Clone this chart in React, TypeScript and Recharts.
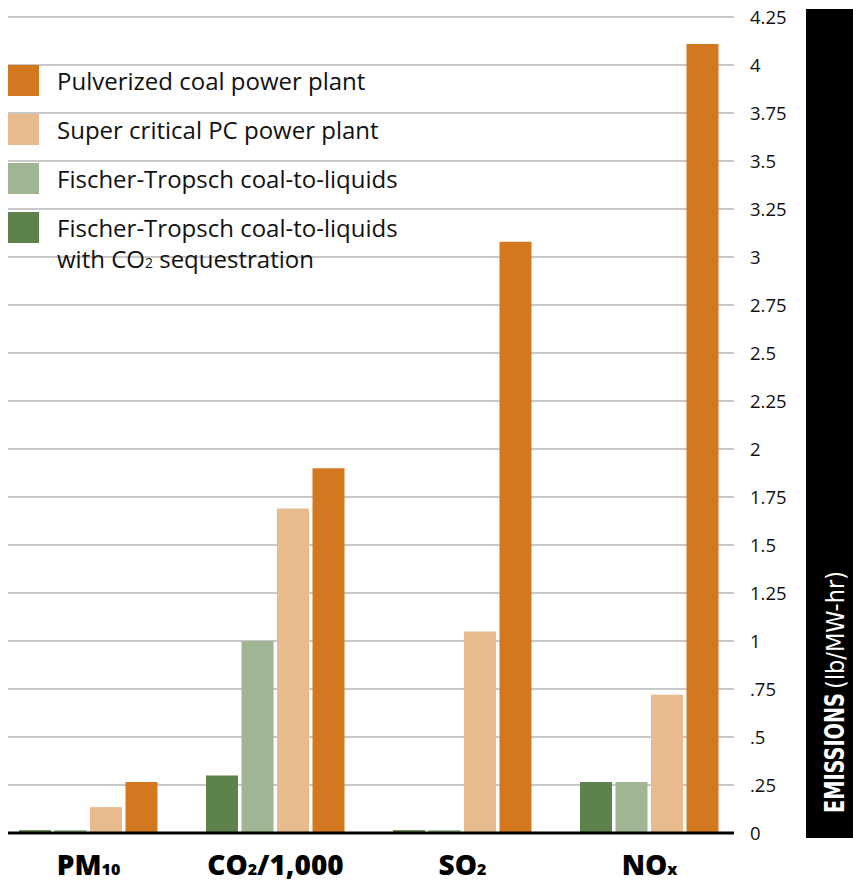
import { BarChart, Bar, XAxis, YAxis, CartesianGrid } from 'recharts';

// category labels are split so the chemical subscripts can be drawn smaller
const categoryMain = ['PM', 'CO', 'SO', 'NO'];
const categorySub = ['10', '2', '2', 'x'];
const categoryTail = ['', '/1,000', '', ''];

// emissions, lb/MW-hr
const ftCcs = [0.015, 0.3, 0.015, 0.265];
const ftCtl = [0.015, 1.0, 0.015, 0.265];
const superCritical = [0.135, 1.69, 1.05, 0.72];
const pulverized = [0.265, 1.9, 3.08, 4.11];

const yTicks = [0, 0.25, 0.5, 0.75, 1, 1.25, 1.5, 1.75, 2, 2.25, 2.5, 2.75, 3, 3.25, 3.5, 3.75, 4, 4.25];

const series = [
  { key: 'ftCcs', color: '#5E824B' },
  { key: 'ftCtl', color: '#A0B593' },
  { key: 'superCritical', color: '#E8BB8E' },
  { key: 'pulverized', color: '#D3781F' },
];

// legend runs top-down in reverse bar order
const legendItems = [
  { color: '#D3781F', lines: ['Pulverized coal power plant'] },
  { color: '#E8BB8E', lines: ['Super critical PC power plant'] },
  { color: '#A0B593', lines: ['Fischer-Tropsch coal-to-liquids'] },
  { color: '#5E824B', lines: ['Fischer-Tropsch coal-to-liquids', 'with CO|2| sequestration'] },
];

const data = categoryMain.map((m, i) => ({
  name: m + categorySub[i] + categoryTail[i],
  ftCcs: ftCcs[i],
  ftCtl: ftCtl[i],
  superCritical: superCritical[i],
  pulverized: pulverized[i],
}));

const FONT = "'Open Sans', 'Noto Sans', sans-serif";

const formatTick = (v: number) => (v > 0 && v < 1 ? String(v).replace(/^0/, '') : String(v));

function CategoryTick(props: any) {
  const { x, payload } = props;
  const i = payload.index;
  return (
    <text x={x} y={875} textAnchor="middle" fontFamily={FONT} fontWeight={800} fontSize={28} fill="#000">
      {categoryMain[i]}
      <tspan fontSize={16}>{categorySub[i]}</tspan>
      {categoryTail[i]}
    </text>
  );
}

function LegendLine({ text }: { text: string }) {
  // "|2|" marks a subscript
  const parts = text.split('|');
  return (
    <div>
      {parts.map((p, k) =>
        k % 2 === 1 ? (
          <span key={k} style={{ fontSize: 14 }}>{p}</span>
        ) : (
          <span key={k}>{p}</span>
        )
      )}
    </div>
  );
}

export default function App() {
  return (
    <div style={{ position: 'absolute', left: 0, top: 0, width: 853, height: 882, background: '#fff' }}>
      <BarChart
        width={853}
        height={882}
        data={data}
        margin={{ top: 17, right: 0, bottom: 0, left: 8 }}
        barSize={32}
        barGap={3.5}
      >
        <CartesianGrid vertical={false} stroke="#c8c8c8" strokeWidth={2} />
        <XAxis
          dataKey="name"
          height={49}
          padding={{ left: -13, right: -9 }}
          axisLine={{ stroke: '#000', strokeWidth: 3 }}
          tickLine={false}
          tick={<CategoryTick />}
          interval={0}
        />
        <YAxis
          orientation="right"
          width={119}
          domain={[0, 4.25]}
          ticks={yTicks}
          interval={0}
          tickFormatter={formatTick}
          axisLine={false}
          tickLine={false}
          tickSize={0}
          tickMargin={14}
          tick={{ fontSize: 18.5, fill: '#111', fontFamily: FONT, dx: 2 }}
        />
        {series.map((s) => (
          <Bar key={s.key} dataKey={s.key} fill={s.color} isAnimationActive={false} />
        ))}
      </BarChart>

      <div style={{ position: 'absolute', left: 8, top: 65, fontFamily: FONT, fontSize: 24, color: '#111' }}>
        {legendItems.map((it, i) => (
          <div key={i} style={{ position: 'absolute', left: 0, top: i * 49, whiteSpace: 'nowrap' }}>
            <div style={{ position: 'absolute', left: 0, top: 0, width: 31, height: 31, background: it.color }} />
            <div style={{ position: 'absolute', left: 49, top: 0, lineHeight: '31px' }}>
              {it.lines.map((l, k) => (
                <LegendLine key={k} text={l} />
              ))}
            </div>
          </div>
        ))}
      </div>

      <div style={{ position: 'absolute', left: 806, top: 9, width: 47, height: 829, background: '#000' }}>
        <svg width={47} height={829}>
          <text
            transform="translate(38 804) rotate(-90)"
            fill="#fff"
            fontFamily="'DejaVu Sans Condensed', 'Liberation Sans Narrow', sans-serif"
            fontWeight={700}
            fontSize={27}
            textLength={120}
            lengthAdjust="spacingAndGlyphs"
          >
            EMISSIONS
          </text>
          <text
            transform="translate(38 680) rotate(-90)"
            fill="#fff"
            fontFamily="'DejaVu Sans Condensed', 'Liberation Sans Narrow', sans-serif"
            fontSize={25}
            textLength={118}
            lengthAdjust="spacingAndGlyphs"
          >
            (lb/MW-hr)
          </text>
        </svg>
      </div>
    </div>
  );
}
